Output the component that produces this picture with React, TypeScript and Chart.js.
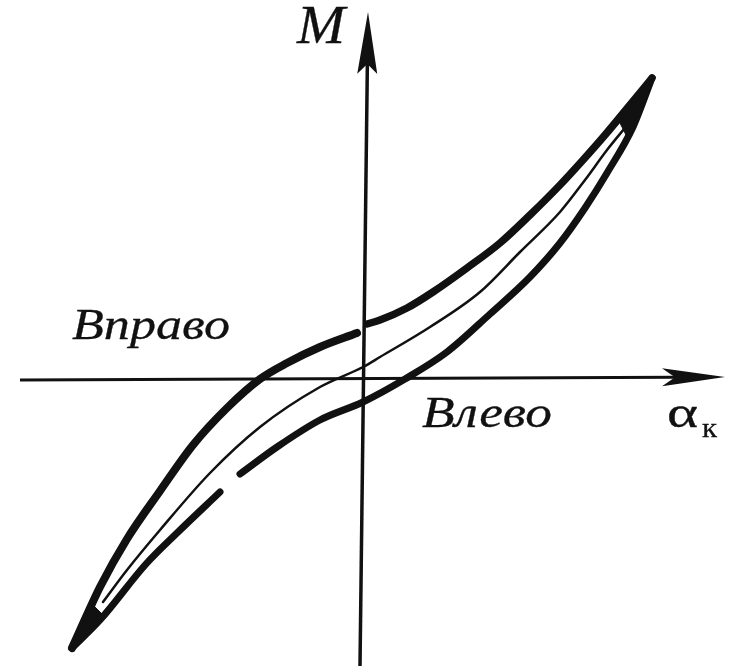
import React, { useEffect, useRef } from "react";
import { Chart, registerables } from "chart.js";

Chart.register(...registerables);

// Axes: α_k (horizontal) and M (vertical), arbitrary units, origin at the crossing
const X_MIN = -3.63;
const X_MAX = 3.68;
const Y_MIN = -2.87;
const Y_MAX = 3.79;

// Upper branch ("Вправо"), broken where it crosses the M axis
const upperLeft: [number, number][] = [
  [-2.91, -2.69], [-2.77, -2.38], [-2.63, -2.08], [-2.36, -1.6], [-2.03, -1.12],
  [-1.7, -0.66], [-1.36, -0.29], [-1.03, 0.0], [-0.76, 0.16], [-0.43, 0.32], [-0.06, 0.46],
];
const upperRight: [number, number][] = [
  [0.04, 0.55], [0.17, 0.59], [0.44, 0.71], [0.7, 0.87], [1.04, 1.11], [1.37, 1.36],
  [1.67, 1.64], [1.97, 1.94], [2.2, 2.19], [2.42, 2.44], [2.62, 2.68], [2.89, 3.01],
];
// Thin middle curve
const middle: [number, number][] = [
  [-2.6, -2.23], [-2.36, -1.91], [-2.03, -1.51], [-1.53, -0.94], [-1.03, -0.48],
  [-0.43, -0.08], [0.0, 0.12], [0.17, 0.22], [0.67, 0.52], [1.17, 0.87], [1.57, 1.27],
  [1.97, 1.67], [2.22, 1.99], [2.44, 2.29], [2.66, 2.56],
];
// Lower branch ("Влево"), drawn in two strokes
const lowerLeft: [number, number][] = [
  [-2.91, -2.69], [-2.63, -2.41], [-2.17, -1.85], [-1.86, -1.54], [-1.43, -1.13],
];
const lowerRight: [number, number][] = [
  [-1.23, -0.95], [-0.86, -0.68], [-0.43, -0.41], [0.0, -0.23], [0.42, 0.0], [0.84, 0.27],
  [1.27, 0.65], [1.67, 1.02], [1.97, 1.36], [2.22, 1.71], [2.44, 2.06], [2.7, 2.52], [2.89, 3.01],
];
// Solid ink at the two tips where the branches merge
const tipUpper: [number, number][] = [[2.55, 2.6], [2.89, 3.01], [2.64, 2.42], [2.55, 2.6]];
const tipLower: [number, number][] = [[-2.91, -2.69], [-2.72, -2.24], [-2.6, -2.36], [-2.91, -2.69]];

// Axis lines: [start, arrow tip]
const horizontalAxis: [number, number][] = [[-3.43, -0.01], [3.62, 0.02]];
const verticalAxis: [number, number][] = [[-0.03, -2.87], [0.05, 3.67]];

// Text labels
const labelTexts = ["M", "Вправо", "Влево", "α", "к"];
const labelAnchors: [number, number][] = [[-0.66, 3.36], [-2.91, 0.4], [0.59, -0.48], [3.04, -0.48], [3.39, -0.58]];

const INK = "#111111";
const SERIF = "'Liberation Serif', 'Times New Roman', serif";
const labelStyles = [
  { font: `italic 54px ${SERIF}`, width: 48 },
  { font: `italic 44px ${SERIF}`, width: 158 },
  { font: `italic 44px ${SERIF}`, width: 130 },
  { font: `44px ${SERIF}`, width: 31 },
  { font: `28px ${SERIF}`, width: 15 },
];

const toPts = (arr: [number, number][]) => arr.map(([x, y]) => ({ x, y }));

function drawArrow(ctx: CanvasRenderingContext2D, fx: number, fy: number, tx: number, ty: number, len: number, hw: number, notch: number, lw: number) {
  const dx = tx - fx;
  const dy = ty - fy;
  const d = Math.hypot(dx, dy);
  const ux = dx / d;
  const uy = dy / d;
  const nx = -uy;
  const ny = ux;
  const bx = tx - ux * len;
  const by = ty - uy * len;
  const mx = tx - ux * (len - notch);
  const my = ty - uy * (len - notch);
  ctx.beginPath();
  ctx.lineWidth = lw;
  ctx.moveTo(fx, fy);
  ctx.lineTo(mx, my);
  ctx.stroke();
  ctx.beginPath();
  ctx.moveTo(tx, ty);
  ctx.lineTo(bx + nx * hw, by + ny * hw);
  ctx.lineTo(mx, my);
  ctx.lineTo(bx - nx * hw, by - ny * hw);
  ctx.closePath();
  ctx.fill();
}

const axesPlugin = {
  id: "axesWithArrows",
  beforeDatasetsDraw(chart: any) {
    const { ctx, scales } = chart;
    const sx = scales.x;
    const sy = scales.y;
    ctx.save();
    ctx.strokeStyle = INK;
    ctx.fillStyle = INK;
    ctx.lineCap = "butt";
    const h0 = horizontalAxis[0];
    const h1 = horizontalAxis[1];
    drawArrow(ctx, sx.getPixelForValue(h0[0]), sy.getPixelForValue(h0[1]), sx.getPixelForValue(h1[0]), sy.getPixelForValue(h1[1]), 63, 9, 13, 3);
    const v0 = verticalAxis[0];
    const v1 = verticalAxis[1];
    drawArrow(ctx, sx.getPixelForValue(v0[0]), sy.getPixelForValue(v0[1]), sx.getPixelForValue(v1[0]), sy.getPixelForValue(v1[1]), 62, 10, 10, 3.5);
    ctx.restore();
  },
  afterDatasetsDraw(chart: any) {
    const { ctx, scales } = chart;
    ctx.save();
    ctx.fillStyle = INK;
    ctx.strokeStyle = INK;
    ctx.lineWidth = 0.3;
    ctx.textBaseline = "alphabetic";
    ctx.textAlign = "left";
    labelTexts.forEach((t, i) => {
      const st = labelStyles[i];
      ctx.font = st.font;
      const w = ctx.measureText(t).width;
      const px = scales.x.getPixelForValue(labelAnchors[i][0]);
      const py = scales.y.getPixelForValue(labelAnchors[i][1]);
      ctx.save();
      ctx.translate(px, py);
      ctx.scale(st.width / w, 1);
      ctx.fillText(t, 0, 0);
      ctx.strokeText(t, 0, 0);
      ctx.restore();
    });
    ctx.restore();
  },
};

export default function App() {
  const ref = useRef<HTMLCanvasElement | null>(null);
  useEffect(() => {
    if (!ref.current) return;
    const line = (data: [number, number][], w: number) => ({
      data: toPts(data),
      showLine: true,
      borderColor: INK,
      backgroundColor: INK,
      borderWidth: w,
      pointRadius: 0,
      cubicInterpolationMode: "monotone" as const,
      borderCapStyle: "round" as const,
      borderJoinStyle: "round" as const,
      fill: false,
    });
    const tip = (data: [number, number][]) => ({
      data: toPts(data),
      showLine: true,
      borderColor: INK,
      backgroundColor: INK,
      borderWidth: 1,
      pointRadius: 0,
      tension: 0,
      fill: "shape" as const,
    });
    const chart = new Chart(ref.current, {
      type: "scatter",
      data: {
        datasets: [
          tip(tipUpper),
          tip(tipLower),
          line(upperLeft, 8),
          line(upperRight, 7.5),
          line(middle, 2.5),
          line(lowerLeft, 7),
          line(lowerRight, 7),
        ],
      },
      options: {
        animation: false,
        responsive: false,
        events: [],
        layout: { padding: 0 },
        plugins: { legend: { display: false }, tooltip: { enabled: false } },
        scales: {
          x: { type: "linear", min: X_MIN, max: X_MAX, display: false },
          y: { type: "linear", min: Y_MIN, max: Y_MAX, display: false },
        },
      },
      plugins: [axesPlugin],
    });
    return () => chart.destroy();
  }, []);
  return (
    <div style={{ position: "fixed", left: 0, top: 0, width: 731, height: 666, background: "#fff" }}>
      <canvas ref={ref} width={731} height={666} style={{ display: "block" }} />
    </div>
  );
}
